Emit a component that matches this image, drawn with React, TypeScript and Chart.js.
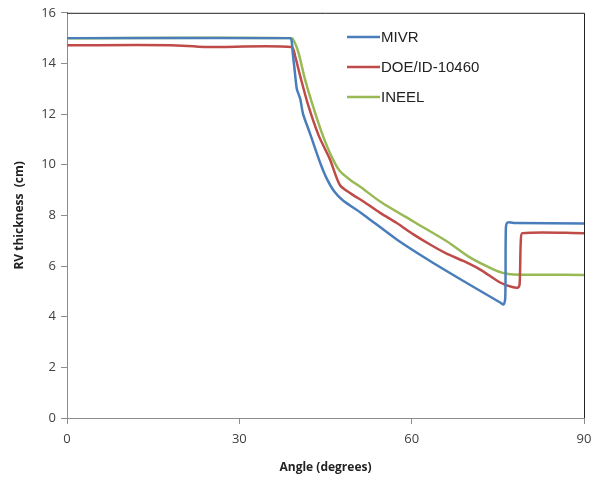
import React, { useEffect, useRef } from "react";
import { Chart, registerables } from "chart.js";

Chart.register(...registerables);

const seriesNames = ["MIVR", "DOE/ID-10460", "INEEL"];
const seriesColors = ["#4a7ebb", "#be4b48", "#98b954"];

const mivrX = [0, 38.8, 39.1, 39.3, 39.6, 40.0, 40.6, 41.1, 42.2, 43.2, 44.2, 45.2, 46.5, 48.0, 51.6, 57.4, 63.2, 69.0, 75.4, 76.0, 76.3, 76.4, 76.7, 78, 90];
const mivrY = [15.0, 15.0, 14.9, 14.4, 13.8, 13.0, 12.6, 12.0, 11.3, 10.64, 10.0, 9.46, 8.95, 8.6, 8.03, 7.05, 6.2, 5.41, 4.56, 4.48, 4.8, 7.5, 7.72, 7.7, 7.68];

const doeX = [0, 18, 24, 39.1, 39.7, 40.6, 42.0, 43.8, 45.8, 47.5, 49.5, 51.6, 54.5, 57.4, 60.3, 63.2, 66, 69, 72, 75.4, 77.5, 78.5, 78.8, 79.0, 79.3, 90];
const doeY = [14.72, 14.72, 14.65, 14.65, 14.3, 13.5, 12.34, 11.16, 10.2, 9.2, 8.85, 8.55, 8.1, 7.7, 7.25, 6.85, 6.5, 6.2, 5.85, 5.35, 5.17, 5.15, 5.3, 7.0, 7.3, 7.3];

const ineelX = [0, 39.1, 39.6, 40.3, 41.4, 42.6, 44.3, 46.1, 47.5, 49.3, 51.0, 54.5, 60.3, 66.1, 70.2, 74.2, 76.0, 77.7, 90];
const ineelY = [15.0, 15.0, 14.85, 14.43, 13.4, 12.47, 11.3, 10.3, 9.75, 9.4, 9.14, 8.55, 7.76, 6.98, 6.33, 5.87, 5.72, 5.67, 5.65];

const xTicks = [0, 30, 60, 90];
const yTicks = [0, 2, 4, 6, 8, 10, 12, 14, 16];
const xTitle = "Angle (degrees)";
const yTitle = "RV thickness  (cm)";

const toPoints = (xs: number[], ys: number[]) => xs.map((x, i) => ({ x, y: ys[i] }));

const framePlugin = {
  id: "frame",
  afterDatasetsDraw(chart: any) {
    const { ctx, chartArea } = chart;
    ctx.save();
    ctx.strokeStyle = "#222";
    ctx.lineWidth = 1;
    ctx.beginPath();
    ctx.moveTo(chartArea.left, chartArea.top + 0.5);
    ctx.lineTo(chartArea.right + 0.5, chartArea.top + 0.5);
    ctx.lineTo(chartArea.right + 0.5, chartArea.bottom);
    ctx.stroke();
    ctx.restore();
  },
};

const legendPlugin = {
  id: "customLegend",
  afterDraw(chart: any) {
    const { ctx } = chart;
    ctx.save();
    chart.data.datasets.forEach((ds: any, i: number) => {
      const y = 37 + i * 30;
      ctx.strokeStyle = ds.borderColor;
      ctx.lineWidth = 2.5;
      ctx.beginPath();
      ctx.moveTo(347, y);
      ctx.lineTo(380, y);
      ctx.stroke();
      ctx.fillStyle = "#222";
      ctx.font = "15px 'Liberation Sans', Arial, sans-serif";
      ctx.textBaseline = "middle";
      ctx.textAlign = "left";
      ctx.fillText(ds.label, 381, y + 1);
    });
    ctx.restore();
  },
};

export default function App() {
  const canvasRef = useRef<HTMLCanvasElement | null>(null);

  useEffect(() => {
    if (!canvasRef.current) return;
    const chart = new Chart(canvasRef.current, {
      type: "scatter",
      data: {
        datasets: [
          { label: seriesNames[0], data: toPoints(mivrX, mivrY), borderColor: seriesColors[0] },
          { label: seriesNames[1], data: toPoints(doeX, doeY), borderColor: seriesColors[1] },
          { label: seriesNames[2], data: toPoints(ineelX, ineelY), borderColor: seriesColors[2] },
        ].map((d) => ({
          ...d,
          showLine: true,
          borderWidth: 2.5,
          pointRadius: 0,
          tension: 0.25,
          backgroundColor: d.borderColor,
        })),
      },
      options: {
        animation: false,
        responsive: false,
        layout: { padding: { top: 10, right: 19, left: 0, bottom: 0 } },
        plugins: { legend: { display: false }, tooltip: { enabled: false } },
        scales: {
          x: {
            type: "linear",
            min: 0,
            max: 90,
            afterBuildTicks: (s: any) => {
              s.ticks = xTicks.map((v) => ({ value: v }));
            },
            afterFit: (s: any) => {
              s.height = 61;
            },
            grid: { drawOnChartArea: false, drawTicks: true, tickLength: 6, color: "#8c8c8c" },
            border: { color: "#8c8c8c", width: 1 },
            ticks: { color: "#404040", font: { family: "'Open Sans', sans-serif", size: 13 }, padding: 7 },
            title: {
              display: true,
              text: xTitle,
              color: "#222",
              font: { family: "'Open Sans', sans-serif", size: 12, weight: "bold" },
              padding: { top: 4 },
            },
          },
          y: {
            type: "linear",
            min: 0,
            max: 16,
            afterBuildTicks: (s: any) => {
              s.ticks = yTicks.map((v) => ({ value: v }));
            },
            afterFit: (s: any) => {
              s.width = 67;
            },
            grid: { drawOnChartArea: false, drawTicks: true, tickLength: 6, color: "#8c8c8c" },
            border: { color: "#8c8c8c", width: 1 },
            ticks: { color: "#404040", font: { family: "'Open Sans', sans-serif", size: 13 }, padding: 5 },
            title: {
              display: true,
              text: yTitle,
              color: "#222",
              font: { family: "'Open Sans', sans-serif", size: 12, weight: "bold" },
              padding: { top: 12, bottom: 4 },
            },
          },
        },
      },
      plugins: [framePlugin, legendPlugin],
    } as any);
    return () => chart.destroy();
  }, []);

  return (
    <div style={{ position: "fixed", left: 0, top: 0, width: 603, height: 479, background: "#fff" }}>
      <canvas ref={canvasRef} width={603} height={479} style={{ width: 603, height: 479, display: "block" }} />
    </div>
  );
}
